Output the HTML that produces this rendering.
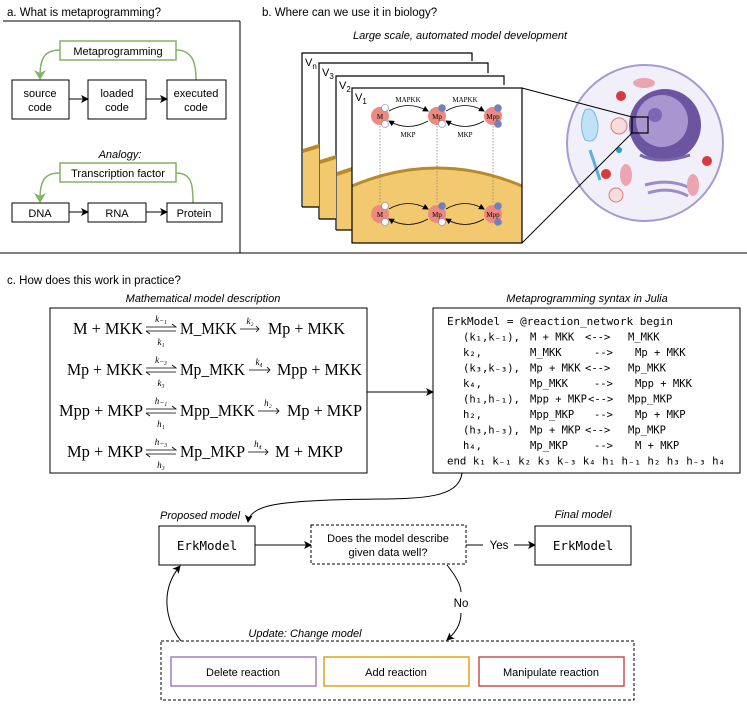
<!DOCTYPE html>
<html><head><meta charset="utf-8"><style>
html,body{margin:0;padding:0;background:#fff;}
svg{display:block;}
.s{font-family:"Liberation Sans",sans-serif;}
.i{font-family:"Liberation Sans",sans-serif;font-style:italic;}
.m{font-family:"DejaVu Sans Mono","Liberation Mono",monospace;white-space:pre;}
.r{font-family:"Liberation Serif",serif;}
</style></head><body>
<svg width="747" height="705" viewBox="0 0 747 705" xmlns="http://www.w3.org/2000/svg">
<defs>
<marker id="a" markerWidth="8" markerHeight="8" refX="7" refY="4" orient="auto" markerUnits="userSpaceOnUse"><path d="M0,0 L8,4 L0,8 L2,4z" fill="#000"/></marker>
<marker id="sa" markerWidth="6" markerHeight="6" refX="5" refY="3" orient="auto" markerUnits="userSpaceOnUse"><path d="M0,0 L6,3 L0,6z" fill="#000"/></marker>
</defs>

<!-- Panel a -->
<text x="7" y="16" class="s" font-size="11.5">a. What is metaprogramming?</text>
<line x1="3" y1="21" x2="240" y2="21" stroke="#000" stroke-width="1"/>
<line x1="240" y1="21" x2="240" y2="253" stroke="#000" stroke-width="1"/>
<line x1="0" y1="253" x2="747" y2="253" stroke="#000" stroke-width="1"/>

<rect x="60" y="41" width="116" height="19" fill="#fff" stroke="#82b366" stroke-width="1.5"/>
<text x="118" y="55" class="s" font-size="11" text-anchor="middle">Metaprogramming</text>
<path d="M60,50 C45,50 40,58 40,76" fill="none" stroke="#82b366" stroke-width="1.5"/>
<path d="M34,70 L40,80 L46,70 L40,73z" fill="#82b366"/>
<path d="M176,50 C192,50 196,62 196,80" fill="none" stroke="#82b366" stroke-width="1.5"/>
<rect x="12" y="80" width="57" height="39" fill="#fff" stroke="#000"/>
<text x="40" y="97" class="s" font-size="11" text-anchor="middle">source</text>
<text x="40" y="111" class="s" font-size="11" text-anchor="middle">code</text>
<rect x="88" y="80" width="58" height="39" fill="#fff" stroke="#000"/>
<text x="117" y="97" class="s" font-size="11" text-anchor="middle">loaded</text>
<text x="117" y="111" class="s" font-size="11" text-anchor="middle">code</text>
<rect x="167" y="80" width="59" height="39" fill="#fff" stroke="#000"/>
<text x="196" y="97" class="s" font-size="11" text-anchor="middle">executed</text>
<text x="196" y="111" class="s" font-size="11" text-anchor="middle">code</text>
<line x1="69" y1="99" x2="88" y2="99" stroke="#000" marker-end="url(#a)"/>
<line x1="146" y1="99" x2="167" y2="99" stroke="#000" marker-end="url(#a)"/>

<text x="120" y="158" class="i" font-size="11" text-anchor="middle">Analogy:</text>
<rect x="60" y="163" width="116" height="19" fill="#fff" stroke="#82b366" stroke-width="1.5"/>
<text x="118" y="177" class="s" font-size="11" text-anchor="middle">Transcription factor</text>
<path d="M60,173 C45,173 40,180 40,199" fill="none" stroke="#82b366" stroke-width="1.5"/>
<path d="M34,193 L40,203 L46,193 L40,196z" fill="#82b366"/>
<path d="M176,173 C192,173 193,185 193,203" fill="none" stroke="#82b366" stroke-width="1.5"/>
<rect x="12" y="203" width="57" height="19" fill="#fff" stroke="#000"/>
<text x="40" y="217" class="s" font-size="11" text-anchor="middle">DNA</text>
<rect x="88" y="203" width="58" height="19" fill="#fff" stroke="#000"/>
<text x="117" y="217" class="s" font-size="11" text-anchor="middle">RNA</text>
<rect x="167" y="203" width="55" height="19" fill="#fff" stroke="#000"/>
<text x="194" y="217" class="s" font-size="11" text-anchor="middle">Protein</text>
<line x1="69" y1="212" x2="88" y2="212" stroke="#000" marker-end="url(#a)"/>
<line x1="146" y1="212" x2="167" y2="212" stroke="#000" marker-end="url(#a)"/>

<!-- Panel b -->
<text x="262" y="16" class="s" font-size="11.5">b. Where can we use it in biology?</text>
<text x="460" y="39" class="i" font-size="11" text-anchor="middle">Large scale, automated model development</text>

<g stroke="#000" stroke-width="1.2" fill="none">
<path d="M302,207 L302,53 L472,53 L472,61"/>
<path d="M319,219 L319,63 L488,63 L488,73"/>
<path d="M336,230 L336,76 L504,76 L504,85"/>
</g>
<path d="M303,149 L319,144 L319,207 L303,207z" fill="#f2c96e"/>
<path d="M303,149 L319,144 L319,148 L303,153z" fill="#b98a2a"/>
<path d="M320,160 L336,155 L336,219 L320,219z" fill="#f2c96e"/>
<path d="M320,160 L336,155 L336,159 L320,164z" fill="#b98a2a"/>
<path d="M337,172 L352,167 L352,230 L337,230z" fill="#f2c96e"/>
<path d="M337,172 L352,167 L352,171 L337,176z" fill="#b98a2a"/>
<line x1="302" y1="207" x2="319" y2="207" stroke="#000" stroke-width="1.2"/>
<line x1="319" y1="219" x2="336" y2="219" stroke="#000" stroke-width="1.2"/>
<line x1="336" y1="230" x2="352" y2="230" stroke="#000" stroke-width="1.2"/>
<text x="305" y="66" class="s" font-size="11">V<tspan font-size="8" dy="3">n</tspan></text>
<text x="322" y="76" class="s" font-size="11">V<tspan font-size="8" dy="3">3</tspan></text>
<text x="339" y="89" class="s" font-size="11">V<tspan font-size="8" dy="3">2</tspan></text>

<rect x="352" y="88" width="170" height="155" fill="#fff"/>
<path d="M352,186 Q437,150 522,186 L522,243 L352,243z" fill="#f2c96e"/>
<path d="M352,186 Q437,150 522,186" fill="none" stroke="#b98a2a" stroke-width="3"/>
<rect x="352" y="88" width="170" height="155" fill="none" stroke="#000" stroke-width="1.2"/>
<text x="355" y="101" class="s" font-size="11">V<tspan font-size="8" dy="3">1</tspan></text>
<g stroke="#888" stroke-dasharray="1.5,1.5" stroke-width="0.8">
<line x1="380" y1="126" x2="380" y2="204"/><line x1="437" y1="126" x2="437" y2="204"/><line x1="493" y1="126" x2="493" y2="204"/>
</g>
<g fill="none" stroke="#000" stroke-width="0.8">
<path d="M389,111 Q408,100 428,111" marker-end="url(#sa)"/><path d="M428,121 Q408,132 389,121" marker-end="url(#sa)"/>
<path d="M446,111 Q465,100 484,111" marker-end="url(#sa)"/><path d="M484,121 Q465,132 446,121" marker-end="url(#sa)"/>
<path d="M389,209 Q408,198 428,209" marker-end="url(#sa)"/><path d="M428,219 Q408,230 389,219" marker-end="url(#sa)"/>
<path d="M446,209 Q465,198 484,209" marker-end="url(#sa)"/><path d="M484,219 Q465,230 446,219" marker-end="url(#sa)"/>
</g>
<text x="408" y="102" class="r" font-size="7" text-anchor="middle">MAPKK</text>
<text x="465" y="102" class="r" font-size="7" text-anchor="middle">MAPKK</text>
<text x="408" y="137" class="r" font-size="7" text-anchor="middle">MKP</text>
<text x="465" y="137" class="r" font-size="7" text-anchor="middle">MKP</text>
<g>
<circle cx="380" cy="116" r="9" fill="#ec8a80"/><circle cx="437" cy="116" r="9" fill="#ec8a80"/><circle cx="493" cy="116" r="9" fill="#ec8a80"/>
<circle cx="380" cy="214" r="9" fill="#ec8a80"/><circle cx="437" cy="214" r="9" fill="#ec8a80"/><circle cx="493" cy="214" r="9" fill="#ec8a80"/>
<g stroke="#7080c0" stroke-width="0.6">
<circle cx="385" cy="108" r="3.5" fill="#fff"/><circle cx="385" cy="124" r="3.5" fill="#fff"/>
<circle cx="442" cy="108" r="3.5" fill="#7080c0"/><circle cx="442" cy="124" r="3.5" fill="#fff"/>
<circle cx="498" cy="108" r="3.5" fill="#7080c0"/><circle cx="498" cy="124" r="3.5" fill="#7080c0"/>
<circle cx="385" cy="206" r="3.5" fill="#fff"/><circle cx="385" cy="222" r="3.5" fill="#fff"/>
<circle cx="442" cy="206" r="3.5" fill="#7080c0"/><circle cx="442" cy="222" r="3.5" fill="#fff"/>
<circle cx="498" cy="206" r="3.5" fill="#7080c0"/><circle cx="498" cy="222" r="3.5" fill="#7080c0"/>
</g>
<g class="r" font-size="7" text-anchor="middle">
<text x="380" y="119">M</text><text x="437" y="119">Mp</text><text x="493" y="119">Mpp</text>
<text x="380" y="217">M</text><text x="437" y="217">Mp</text><text x="493" y="217">Mpp</text>
</g>
</g>

<!-- cell -->
<circle cx="645" cy="143" r="78" fill="#f1eff9" stroke="#a999d2" stroke-width="2"/>
<circle cx="665" cy="125" r="36" fill="#6b55a0"/>
<circle cx="662" cy="121" r="26" fill="#a996d0"/>
<circle cx="655" cy="115" r="7" fill="#7d64b4"/>
<path d="M640,155 Q660,165 690,155" stroke="#7a66b0" stroke-width="3" fill="none"/>
<path d="M645,185 Q670,178 690,188 M648,193 Q670,186 688,196" stroke="#9d8bc8" stroke-width="3" fill="none"/>
<path d="M585,110 Q595,105 598,125 Q598,145 585,140 Q578,125 585,110z" fill="#bfe2f7" stroke="#7ab8dc"/>
<circle cx="619" cy="126" r="8" fill="#f6dcdc" stroke="#d97c7c"/>
<circle cx="621" cy="96" r="5" fill="#d63c3c"/><circle cx="606" cy="174" r="5" fill="#d63c3c"/><circle cx="707" cy="161" r="5" fill="#d63c3c"/>
<ellipse cx="644" cy="83" rx="11" ry="5" fill="#eaa5b0"/>
<ellipse cx="626" cy="175" rx="6" ry="11" fill="#eaa5b0"/>
<ellipse cx="693" cy="185" rx="6" ry="11" fill="#eaa5b0"/>
<circle cx="616" cy="195" r="7" fill="#f6dcdc" stroke="#d97c7c"/>
<path d="M590,150 L600,180" stroke="#5ab0dc" stroke-width="3"/>
<circle cx="619" cy="150" r="3" fill="#2a9ad0"/>
<rect x="632" y="117" width="16" height="16" fill="none" stroke="#000" stroke-width="1.2"/>
<line x1="522" y1="88" x2="632" y2="117" stroke="#000" stroke-width="1"/>
<line x1="522" y1="243" x2="632" y2="133" stroke="#000" stroke-width="1"/>

<!-- Panel c -->
<text x="7" y="284" class="s" font-size="11.5">c. How does this work in practice?</text>
<text x="203" y="302" class="i" font-size="11" text-anchor="middle">Mathematical model description</text>
<text x="587" y="302" class="i" font-size="11" text-anchor="middle">Metaprogramming syntax in Julia</text>
<rect x="50" y="308" width="317" height="165" fill="#fff" stroke="#000"/>
<rect x="433" y="308" width="307" height="165" fill="#fff" stroke="#000"/>
<line x1="367" y1="392" x2="433" y2="392" stroke="#000" marker-end="url(#a)"/>

<g class="r" font-size="17">
<text x="73" y="334" textLength="70" lengthAdjust="spacingAndGlyphs">M + MKK</text><text x="180" y="334" textLength="57" lengthAdjust="spacingAndGlyphs">M_MKK</text><text x="268" y="334" textLength="77" lengthAdjust="spacingAndGlyphs">Mp + MKK</text>
<text x="67" y="375" textLength="76" lengthAdjust="spacingAndGlyphs">Mp + MKK</text><text x="180" y="375" textLength="65" lengthAdjust="spacingAndGlyphs">Mp_MKK</text><text x="277" y="375" textLength="85" lengthAdjust="spacingAndGlyphs">Mpp + MKK</text>
<text x="59" y="416" textLength="84" lengthAdjust="spacingAndGlyphs">Mpp + MKP</text><text x="180" y="416" textLength="75" lengthAdjust="spacingAndGlyphs">Mpp_MKK</text><text x="287" y="416" textLength="75" lengthAdjust="spacingAndGlyphs">Mp + MKP</text>
<text x="67" y="457" textLength="76" lengthAdjust="spacingAndGlyphs">Mp + MKP</text><text x="180" y="457" textLength="65" lengthAdjust="spacingAndGlyphs">Mp_MKP</text><text x="275" y="457" textLength="68" lengthAdjust="spacingAndGlyphs">M + MKP</text>
</g>
<g stroke="#000" stroke-width="0.8" fill="none">
<path d="M146,327 L176,327 L172,324 M146,331 L176,331 M146,331 L150,334"/>
<path d="M146,368 L176,368 L172,365 M146,372 L176,372 M146,372 L150,375"/>
<path d="M146,409 L176,409 L172,406 M146,413 L176,413 M146,413 L150,416"/>
<path d="M146,450 L176,450 L172,447 M146,454 L176,454 M146,454 L150,457"/>
<path d="M240,329 L259,329 M256,326 L259,329 L256,332"/>
<path d="M249,370 L270,370 M267,367 L270,370 L267,373"/>
<path d="M258,411 L279,411 M276,408 L279,411 L276,414"/>
<path d="M248,452 L268,452 M265,449 L268,452 L265,455"/>
</g>
<g class="r" font-style="italic" font-size="9" text-anchor="middle">
<text x="161" y="322">k₋₁</text><text x="161" y="345">k₁</text><text x="250" y="324">k₂</text>
<text x="161" y="363">k₋₃</text><text x="161" y="386">k₃</text><text x="259" y="365">k₄</text>
<text x="161" y="404">h₋₁</text><text x="161" y="427">h₁</text><text x="268" y="406">h₂</text>
<text x="161" y="445">h₋₃</text><text x="161" y="468">h₃</text><text x="258" y="447">h₄</text>
</g>

<g class="m" font-size="10.5">
<text x="447" y="325" textLength="226" lengthAdjust="spacingAndGlyphs">ErkModel = @reaction_network begin</text>
<text x="463" y="340.5">(k₁,k₋₁),</text><text x="530" y="340.5">M + MKK</text><text x="585" y="340.5">&lt;--&gt;</text><text x="628" y="340.5">M_MKK</text>
<text x="463" y="356">k₂,</text><text x="530" y="356">M_MKK</text><text x="594" y="356">--&gt;</text><text x="635" y="356">Mp + MKK</text>
<text x="463" y="371.5">(k₃,k₋₃),</text><text x="530" y="371.5">Mp + MKK</text><text x="585" y="371.5">&lt;--&gt;</text><text x="628" y="371.5">Mp_MKK</text>
<text x="463" y="387">k₄,</text><text x="530" y="387">Mp_MKK</text><text x="594" y="387">--&gt;</text><text x="635" y="387">Mpp + MKK</text>
<text x="463" y="402.5">(h₁,h₋₁),</text><text x="530" y="402.5">Mpp + MKP</text><text x="588" y="402.5">&lt;--&gt;</text><text x="628" y="402.5">Mpp_MKP</text>
<text x="463" y="418">h₂,</text><text x="530" y="418">Mpp_MKP</text><text x="594" y="418">--&gt;</text><text x="635" y="418">Mp + MKP</text>
<text x="463" y="433.5">(h₃,h₋₃),</text><text x="530" y="433.5">Mp + MKP</text><text x="585" y="433.5">&lt;--&gt;</text><text x="628" y="433.5">Mp_MKP</text>
<text x="463" y="449">h₄,</text><text x="530" y="449">Mp_MKP</text><text x="594" y="449">--&gt;</text><text x="635" y="449">M + MKP</text>
<text x="447" y="464.5" textLength="278" lengthAdjust="spacingAndGlyphs">end k₁ k₋₁ k₂ k₃ k₋₃ k₄ h₁ h₋₁ h₂ h₃ h₋₃ h₄</text>
</g>

<!-- flow -->
<path d="M462,473 C458,505 400,497 330,500 C280,502 250,505 248,522" fill="none" stroke="#000" marker-end="url(#a)"/>
<text x="160" y="519" class="i" font-size="11">Proposed model</text>
<rect x="159" y="526" width="96" height="39" fill="#fff" stroke="#000"/>
<text x="207" y="550" class="m" font-size="12.5" text-anchor="middle">ErkModel</text>
<line x1="255" y1="545" x2="311" y2="545" stroke="#000" marker-end="url(#a)"/>
<rect x="311" y="525" width="155" height="39" fill="#fff" stroke="#000" stroke-dasharray="3,2"/>
<text x="388" y="542" class="s" font-size="11" text-anchor="middle">Does the model describe</text>
<text x="388" y="556" class="s" font-size="11" text-anchor="middle">given data well?</text>
<line x1="466" y1="545" x2="483" y2="545" stroke="#000"/>
<text x="499" y="549" class="s" font-size="11.5" text-anchor="middle">Yes</text>
<line x1="514" y1="545" x2="535" y2="545" stroke="#000" marker-end="url(#a)"/>
<text x="583" y="518" class="i" font-size="11" text-anchor="middle">Final model</text>
<rect x="535" y="526" width="96" height="39" fill="#fff" stroke="#000"/>
<text x="583" y="550" class="m" font-size="12.5" text-anchor="middle">ErkModel</text>

<path d="M447,565 C455,575 461,585 461,592" fill="none" stroke="#000"/>
<text x="461" y="607" class="s" font-size="11.5" text-anchor="middle">No</text>
<path d="M461,613 C461,625 455,633 447,640" fill="none" stroke="#000" marker-end="url(#a)"/>
<text x="305" y="637" class="i" font-size="11" text-anchor="middle">Update: Change model</text>
<rect x="161" y="641" width="473" height="59" fill="none" stroke="#000" stroke-dasharray="3,2"/>
<rect x="171" y="657" width="145" height="29" fill="#fff" stroke="#a57fbe" stroke-width="1.5"/>
<text x="243" y="676" class="s" font-size="11" text-anchor="middle">Delete reaction</text>
<rect x="324" y="657" width="145" height="29" fill="#fff" stroke="#e2a21c" stroke-width="1.5"/>
<text x="396" y="676" class="s" font-size="11" text-anchor="middle">Add reaction</text>
<rect x="479" y="657" width="145" height="29" fill="#fff" stroke="#c9504d" stroke-width="1.5"/>
<text x="551" y="676" class="s" font-size="11" text-anchor="middle">Manipulate reaction</text>
<path d="M181,641 C165,620 160,590 180,566" fill="none" stroke="#000" marker-end="url(#a)"/>
</svg>
</body></html>
